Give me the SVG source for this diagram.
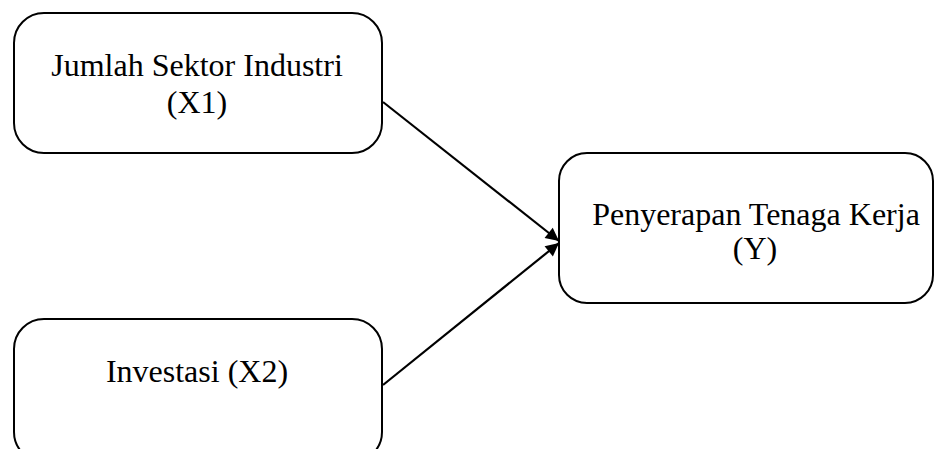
<svg xmlns="http://www.w3.org/2000/svg" width="936" height="449" viewBox="0 0 936 449">
<style>
.box{fill:#fff;stroke:#000;stroke-width:2}
.t{font-family:"Liberation Serif","Times New Roman",serif;font-size:32px;fill:#000;text-anchor:middle}
.c{stroke:#000;stroke-width:2.2;fill:none}
</style>
<defs>
<marker id="ah" viewBox="0 0 10 10" refX="10" refY="5" markerWidth="7" markerHeight="6" markerUnits="strokeWidth" orient="auto">
<path d="M0,0 L10,5 L0,10 z" fill="#000"/>
</marker>
</defs>
<rect width="936" height="449" fill="#fff"/>
<g id="x1">
<rect class="box" x="14" y="13" width="368" height="140" rx="30" ry="30"/>
<text class="t" x="197" y="76">Jumlah Sektor Industri</text>
<text class="t" x="197" y="113">(X1)</text>
</g>
<g id="x2">
<rect class="box" x="14" y="319" width="368" height="143" rx="30" ry="30"/>
<text class="t" x="197" y="382">Investasi (X2)</text>
</g>
<g id="y">
<rect class="box" x="559" y="153" width="374" height="150" rx="28" ry="28"/>
<text class="t" x="756" y="225">Penyerapan Tenaga Kerja</text>
<text class="t" x="755" y="259">(Y)</text>
</g>
<g id="connectors">
<line class="c" x1="383" y1="102" x2="559" y2="241" marker-end="url(#ah)"/>
<line class="c" x1="383" y1="385" x2="559" y2="243" marker-end="url(#ah)"/>
</g>
</svg>
